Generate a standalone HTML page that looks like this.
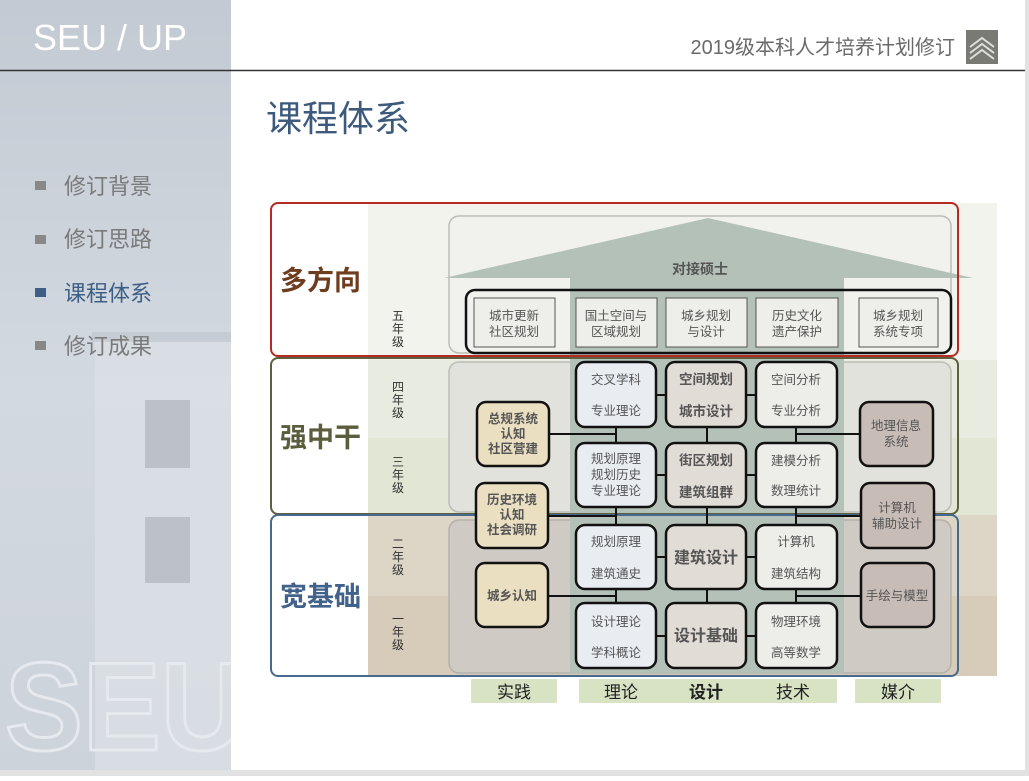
<!DOCTYPE html>
<html><head><meta charset="utf-8"><style>
body{margin:0;width:1029px;height:776px;overflow:hidden;background:#fff;}
svg text{font-family:"Liberation Sans","Noto Sans CJK SC",sans-serif;}
</style></head><body>
<svg width="1029" height="776" viewBox="0 0 1029 776" xmlns="http://www.w3.org/2000/svg">
<defs>
<linearGradient id="lp" x1="0" y1="0" x2="0" y2="1">
<stop offset="0" stop-color="#c3cad3"/><stop offset="0.5" stop-color="#d3d9e0"/><stop offset="1" stop-color="#cdd3da"/></linearGradient>
<clipPath id="cp"><rect x="0" y="0" width="231" height="770"/></clipPath>
</defs>
<rect x="0" y="0" width="1029" height="776" fill="#e2e2e2"/>
<rect x="0" y="0" width="1025" height="770" fill="#fff"/>
<rect x="0" y="0" width="231" height="770" fill="url(#lp)"/>
<rect x="95" y="340" width="136" height="430" fill="#dce1e6" opacity="0.7"/>
<rect x="145" y="400" width="45" height="68" fill="#bcc1c7"/>
<rect x="145" y="517" width="45" height="66" fill="#bcc1c7"/>
<rect x="92" y="332" width="139" height="10" fill="#c2c8cf" opacity="0.7"/>
<g clip-path="url(#cp)">
<text x="5" y="750" font-size="125" font-weight="bold" fill="none" stroke="#e6e9ed" stroke-width="3" textLength="240" lengthAdjust="spacingAndGlyphs">SEU</text>
</g>
<text x="33" y="50" font-size="36" fill="#fff">SEU / UP</text>
<line x1="0" y1="70.5" x2="1025" y2="70.5" stroke="#333" stroke-width="1.5"/>
<rect x="35" y="181" width="11" height="9" fill="#888"/>
<text x="64" y="194" font-size="22" fill="#7a7a7a">修订背景</text>
<rect x="35" y="235" width="11" height="9" fill="#888"/>
<text x="64" y="247" font-size="22" fill="#7a7a7a">修订思路</text>
<rect x="35" y="288" width="11" height="9" fill="#3e5f85"/>
<text x="64" y="301" font-size="22" fill="#3e5f85">课程体系</text>
<rect x="35" y="341" width="11" height="9" fill="#888"/>
<text x="64" y="354" font-size="22" fill="#7a7a7a">修订成果</text>
<text x="955" y="54" font-size="20" fill="#6a6a6a" text-anchor="end">2019级本科人才培养计划修订</text>
<rect x="966" y="30" width="32" height="34" fill="#7a7a75"/>
<polyline points="970,47 982,38 994,47" fill="none" stroke="#ddd" stroke-width="2"/>
<polyline points="970,53 982,44 994,53" fill="none" stroke="#ddd" stroke-width="2"/>
<polyline points="970,59 982,50 994,59" fill="none" stroke="#ddd" stroke-width="2"/>
<text x="266" y="131" font-size="36" fill="#3d5a7c">课程体系</text>

<rect x="368" y="203" width="629" height="157" fill="#f2f3ed"/>
<rect x="368" y="360" width="629" height="78" fill="#e8ebdf"/>
<rect x="368" y="438" width="629" height="77" fill="#e2e7d5"/>
<rect x="368" y="515" width="629" height="81" fill="#ddd6c7"/>
<rect x="368" y="596" width="629" height="80" fill="#d7ccb9"/>
<rect x="449" y="216" width="502" height="137" rx="10" fill="#f1f1ee" stroke="#bdbdb8" stroke-width="1.5"/>
<rect x="449" y="362" width="502" height="150" rx="10" fill="#e2e2dc" stroke="#bdbdb8" stroke-width="1.5"/>
<rect x="449" y="520" width="502" height="153" rx="10" fill="#cfcbc4" stroke="#b4b1ab" stroke-width="1.5"/>
<rect x="570" y="277" width="274" height="396" fill="#b4c1b8"/>
<polygon points="708,218 973,278 444,278" fill="#b4c1b8"/>
<text x="700" y="274" font-size="14" font-weight="bold" fill="#555" text-anchor="middle">对接硕士</text>
<rect x="271" y="203" width="687" height="153" rx="7" fill="none" stroke="#b52a22" stroke-width="2"/>
<rect x="271" y="358" width="687" height="156" rx="7" fill="none" stroke="#5d5f3e" stroke-width="2"/>
<rect x="271" y="515" width="687" height="161" rx="7" fill="none" stroke="#47698f" stroke-width="2"/>
<text x="280" y="290" font-size="27" font-weight="bold" fill="#6e3d1f">多方向</text>
<text x="280" y="447" font-size="27" font-weight="bold" fill="#5b5d3c">强中干</text>
<text x="280" y="606" font-size="27" font-weight="bold" fill="#41628a">宽基础</text>
<g font-size="12" fill="#333" text-anchor="middle">
<text x="398" y="320">五</text><text x="398" y="333">年</text><text x="398" y="346">级</text>
<text x="398" y="391">四</text><text x="398" y="404">年</text><text x="398" y="417">级</text>
<text x="398" y="466">三</text><text x="398" y="479">年</text><text x="398" y="492">级</text>
<text x="398" y="548">二</text><text x="398" y="561">年</text><text x="398" y="574">级</text>
<text x="398" y="623">一</text><text x="398" y="636">年</text><text x="398" y="649">级</text>
</g>
<rect x="466" y="290" width="485" height="63" rx="9" fill="none" stroke="#111" stroke-width="2.5"/>
<g fill="#eeeeea" stroke="#555" stroke-width="1">
<rect x="474" y="298" width="81" height="49"/><rect x="576" y="298" width="81" height="49"/>
<rect x="666" y="298" width="81" height="49"/><rect x="756" y="298" width="82" height="49"/>
<rect x="859" y="298" width="79" height="49"/></g>
<g font-size="12.5" fill="#555" text-anchor="middle">
<text x="514" y="320">城市更新</text><text x="514" y="336">社区规划</text>
<text x="616" y="320">国土空间与</text><text x="616" y="336">区域规划</text>
<text x="706" y="320">城乡规划</text><text x="706" y="336">与设计</text>
<text x="797" y="320">历史文化</text><text x="797" y="336">遗产保护</text>
<text x="898" y="320">城乡规划</text><text x="898" y="336">系统专项</text>
</g>
<g stroke="#111" stroke-width="2">
<line x1="549" y1="434" x2="616" y2="434"/><line x1="549" y1="516" x2="616" y2="516"/><line x1="549" y1="596" x2="616" y2="596"/>
<line x1="796" y1="434" x2="860" y2="434"/><line x1="796" y1="516" x2="860" y2="516"/><line x1="796" y1="596" x2="860" y2="596"/>
<line x1="616" y1="426" x2="616" y2="444"/><line x1="616" y1="506" x2="616" y2="526"/><line x1="616" y1="588" x2="616" y2="604"/>
<line x1="707" y1="426" x2="707" y2="444"/><line x1="707" y1="506" x2="707" y2="526"/><line x1="707" y1="588" x2="707" y2="604"/>
<line x1="796" y1="426" x2="796" y2="444"/><line x1="796" y1="506" x2="796" y2="526"/><line x1="796" y1="588" x2="796" y2="604"/>
<line x1="656" y1="395" x2="666" y2="395"/><line x1="746" y1="395" x2="756" y2="395"/>
<line x1="656" y1="475" x2="666" y2="475"/><line x1="746" y1="475" x2="756" y2="475"/>
<line x1="656" y1="557" x2="666" y2="557"/><line x1="746" y1="557" x2="756" y2="557"/>
<line x1="656" y1="636" x2="666" y2="636"/><line x1="746" y1="636" x2="756" y2="636"/>
</g>
<g stroke="#111" stroke-width="2.5">
<rect x="576" y="362" width="80" height="65" rx="9" fill="#e9edf2"/>
<rect x="576" y="443" width="80" height="64" rx="9" fill="#e9edf2"/>
<rect x="576" y="525" width="80" height="64" rx="9" fill="#e9edf2"/>
<rect x="576" y="603" width="80" height="65" rx="9" fill="#e9edf2"/>
<rect x="666" y="362" width="80" height="65" rx="9" fill="#e2dcd7"/>
<rect x="666" y="443" width="80" height="64" rx="9" fill="#e2dcd7"/>
<rect x="666" y="525" width="80" height="64" rx="9" fill="#e2dcd7"/>
<rect x="666" y="603" width="80" height="65" rx="9" fill="#e2dcd7"/>
<rect x="756" y="362" width="81" height="65" rx="9" fill="#ededea"/>
<rect x="756" y="443" width="81" height="64" rx="9" fill="#ededea"/>
<rect x="756" y="525" width="81" height="64" rx="9" fill="#ededea"/>
<rect x="756" y="603" width="81" height="65" rx="9" fill="#ededea"/>
<rect x="477" y="402" width="72" height="64" rx="9" fill="#ebdfc2"/>
<rect x="476" y="483" width="72" height="65" rx="9" fill="#ebdfc2"/>
<rect x="476" y="563" width="72" height="64" rx="9" fill="#ebdfc2"/>
<rect x="860" y="402" width="73" height="64" rx="9" fill="#c8bcb6"/>
<rect x="861" y="483" width="73" height="65" rx="9" fill="#c8bcb6"/>
<rect x="861" y="563" width="73" height="64" rx="9" fill="#c8bcb6"/>
</g>
<g font-size="12.5" fill="#555" text-anchor="middle">
<text x="616" y="384">交叉学科</text><text x="616" y="415">专业理论</text>
<text x="616" y="463">规划原理</text><text x="616" y="479">规划历史</text><text x="616" y="495">专业理论</text>
<text x="616" y="546">规划原理</text><text x="616" y="578">建筑通史</text>
<text x="616" y="626">设计理论</text><text x="616" y="657">学科概论</text>
<text x="796" y="384">空间分析</text><text x="796" y="415">专业分析</text>
<text x="796" y="465">建模分析</text><text x="796" y="495">数理统计</text>
<text x="796" y="546">计算机</text><text x="796" y="578">建筑结构</text>
<text x="796" y="626">物理环境</text><text x="796" y="657">高等数学</text>
<text x="896" y="430">地理信息</text><text x="896" y="446">系统</text>
<text x="897" y="512">计算机</text><text x="897" y="528">辅助设计</text>
<text x="897" y="600">手绘与模型</text>
</g>
<g font-size="12.5" font-weight="bold" fill="#555" text-anchor="middle">
<text x="513" y="423">总规系统</text><text x="513" y="438">认知</text><text x="513" y="453">社区营建</text>
<text x="512" y="504">历史环境</text><text x="512" y="519">认知</text><text x="512" y="534">社会调研</text>
<text x="512" y="600">城乡认知</text>
<text x="706" y="384" font-size="13.5">空间规划</text><text x="706" y="416" font-size="13.5">城市设计</text>
<text x="706" y="465" font-size="13.5">街区规划</text><text x="706" y="497" font-size="13.5">建筑组群</text>
<text x="706" y="563" font-size="16">建筑设计</text>
<text x="706" y="641" font-size="16">设计基础</text>
</g>
<rect x="471" y="679" width="86" height="24" fill="#d8e3c4"/>
<rect x="579" y="679" width="258" height="24" fill="#d8e3c4"/>
<rect x="855" y="679" width="86" height="24" fill="#d8e3c4"/>
<g font-size="17" fill="#222" text-anchor="middle">
<text x="514" y="698">实践</text><text x="621" y="698">理论</text>
<text x="706" y="698" font-weight="bold">设计</text><text x="793" y="698">技术</text><text x="898" y="698">媒介</text>
</g>
</svg>
</body></html>
